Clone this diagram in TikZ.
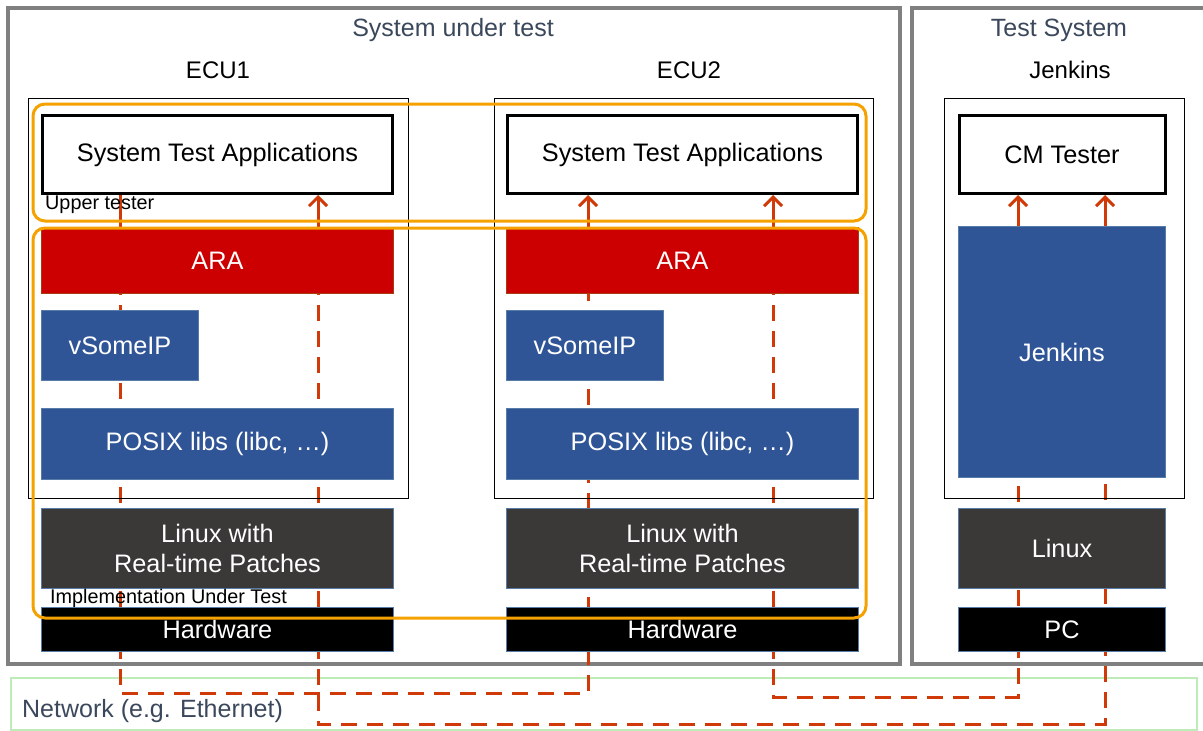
\documentclass[tikz,border=0pt]{standalone}
\usepackage{fontspec}
\setmainfont{Liberation Sans}
\usetikzlibrary{arrows.meta,shadows}
\definecolor{arared}{RGB}{204,0,0}
\definecolor{araedge}{RGB}{165,60,20}
\definecolor{libblue}{RGB}{47,85,151}
\definecolor{boxedge}{RGB}{88,124,168}
\definecolor{osgray}{RGB}{59,56,56}
\definecolor{netred}{RGB}{208,58,8}
\definecolor{groupor}{RGB}{245,162,0}
\definecolor{framegray}{RGB}{128,128,128}
\definecolor{netgreen}{RGB}{190,236,184}
\definecolor{titleblue}{RGB}{59,72,92}
\pgfdeclarelayer{back}
\pgfdeclarelayer{wires}
\pgfsetlayers{back,wires,main}

\begin{document}
\begin{tikzpicture}[x=1pt, y=-1pt,
    frame/.style = {draw=framegray, line width=4pt, fill=white, drop shadow={shadow xshift=2pt, shadow yshift=-2pt, opacity=0.2}},
    unit/.style = {draw=black, line width=1pt},
    app/.style = {draw=black, line width=3pt, fill=white, inner sep=0pt, font=\fontsize{25.3}{29}\selectfont},
    layer/.style = {draw=boxedge, line width=1.2pt, text=white, inner sep=0pt, align=center, font=\fontsize{25.3}{30}\selectfont},
    group/.style = {draw=groupor, line width=3pt, rounded corners=12pt},
    link/.style = {draw=netred, line width=3pt, dash pattern=on 16pt off 10pt},
    stub/.style = {draw=netred, line width=3pt},
    tip/.style = {-{Straight Barb[length=9pt,width=18pt]}},
    head/.style = {font=\fontsize{24}{28}\selectfont},
    title/.style = {text=titleblue, font=\fontsize{25}{30}\selectfont},
    tag/.style = {anchor=west, inner sep=0pt, font=\fontsize{19.8}{22}\selectfont}]
    \useasboundingbox (0,0) rectangle (1203,731);

    % outer frames
    \begin{pgfonlayer}{back}
    \node[frame, minimum width=892pt, minimum height=656pt] (sut) at (454,336) {};
    \node[frame, minimum width=300pt, minimum height=656pt] (ts) at (1062,336) {};
    \node[draw=netgreen, line width=2.5pt, minimum width=1186pt, minimum height=52pt] (net) at (604,704) {};
    \end{pgfonlayer}
    \node[title] (sutname) at (453,30) {System under test};
    \node[title] (tsname) at (1059,30) {Test System};
    \node[title, tag, font=\fontsize{25}{30}\selectfont] (netname) at (22,711) {Network (e.g. Ethernet)};

    % ECU1
    \node[head] (ecu1name) at (218,70) {ECU1};
    \node[unit, minimum width=380pt, minimum height=400pt] (ecu1) at (218,298) {};
    \node[app, minimum width=350pt, minimum height=78pt] (ecu1sta) at (217.5,154.5) {System Test Applications};
    \node[layer, fill=arared, draw=araedge, minimum width=352pt, minimum height=66pt] (ecu1ara) at (217.5,260.5) {ARA};
    \node[layer, fill=libblue, minimum width=157pt, minimum height=70pt] (ecu1some) at (120,345.5) {vSomeIP};
    \node[layer, fill=libblue, minimum width=352pt, minimum height=71pt] (ecu1posix) at (217.5,444) {POSIX libs (libc, \dots)};
    \node[layer, fill=osgray, minimum width=352pt, minimum height=80pt] (ecu1linux) at (217.5,548.5) {Linux with\\Real-time Patches};
    \node[layer, fill=black, minimum width=352pt, minimum height=44pt] (ecu1hw) at (217.5,629.5) {Hardware};

    % ECU2
    \node[head] (ecu2name) at (689,70) {ECU2};
    \node[unit, minimum width=379pt, minimum height=400pt] (ecu2) at (683.5,298) {};
    \node[app, minimum width=350pt, minimum height=78pt] (ecu2sta) at (682.5,154.5) {System Test Applications};
    \node[layer, fill=arared, draw=araedge, minimum width=352pt, minimum height=66pt] (ecu2ara) at (682.5,260.5) {ARA};
    \node[layer, fill=libblue, minimum width=157pt, minimum height=70pt] (ecu2some) at (585,345.5) {vSomeIP};
    \node[layer, fill=libblue, minimum width=352pt, minimum height=71pt] (ecu2posix) at (682.5,444) {POSIX libs (libc, \dots)};
    \node[layer, fill=osgray, minimum width=352pt, minimum height=80pt] (ecu2linux) at (682.5,548.5) {Linux with\\Real-time Patches};
    \node[layer, fill=black, minimum width=352pt, minimum height=44pt] (ecu2hw) at (682.5,629.5) {Hardware};

    % Jenkins
    \node[head] (jname) at (1070,70) {Jenkins};
    \node[unit, minimum width=240pt, minimum height=400pt] (jenk) at (1064,298) {};
    \node[app, minimum width=206pt, minimum height=78pt] (cmtester) at (1062,154.5) {CM Tester};
    \node[layer, fill=libblue, minimum width=207pt, minimum height=251pt] (jenkins) at (1062,352) {Jenkins};
    \node[layer, fill=osgray, minimum width=207pt, minimum height=80pt] (jlinux) at (1062,548.5) {Linux};
    \node[layer, fill=black, minimum width=207pt, minimum height=44pt] (jpc) at (1062,629.5) {PC};

    % network routes
    \coordinate (a1) at (120,693);
    \coordinate (a2) at (588,693);
    \coordinate (b1) at (318,724);
    \coordinate (b2) at (1105,724);
    \coordinate (c1) at (773,697);
    \coordinate (c2) at (1018,697);
    \begin{pgfonlayer}{wires}
    \draw[stub] (ecu1ara.north -| a1) -- (ecu1sta.south -| a1);
    \draw[link] (ecu1ara.north -| a1) -- (a1) -- (a2) -- (ecu2ara.north -| a2);
    \draw[stub, tip] (ecu2ara.north -| a2) -- (ecu2sta.south -| a2);
    \draw[stub, tip] (ecu1ara.north -| b1) -- (ecu1sta.south -| b1);
    \draw[link] (ecu1ara.north -| b1) -- (b1) -- (b2) -- (jenkins.north -| b2);
    \draw[stub, tip] (jenkins.north -| b2) -- (cmtester.south -| b2);
    \draw[stub, tip] (ecu2ara.north -| c1) -- (ecu2sta.south -| c1);
    \draw[link] (ecu2ara.north -| c1) -- (c1) -- (c2) -- (jenkins.north -| c2);
    \draw[stub, tip] (jenkins.north -| c2) -- (cmtester.south -| c2);
    \end{pgfonlayer}

    % tester groups
    \node[group, minimum width=833pt, minimum height=117pt] (upper) at (449.5,162.5) {};
    \node[group, minimum width=833pt, minimum height=390pt] (iut) at (449.5,423) {};
    \node[tag] (uppername) at (45,205) {Upper tester};
    \node[tag] (iutname) at (50,598) {Implementation Under Test};
\end{tikzpicture}
\end{document}
